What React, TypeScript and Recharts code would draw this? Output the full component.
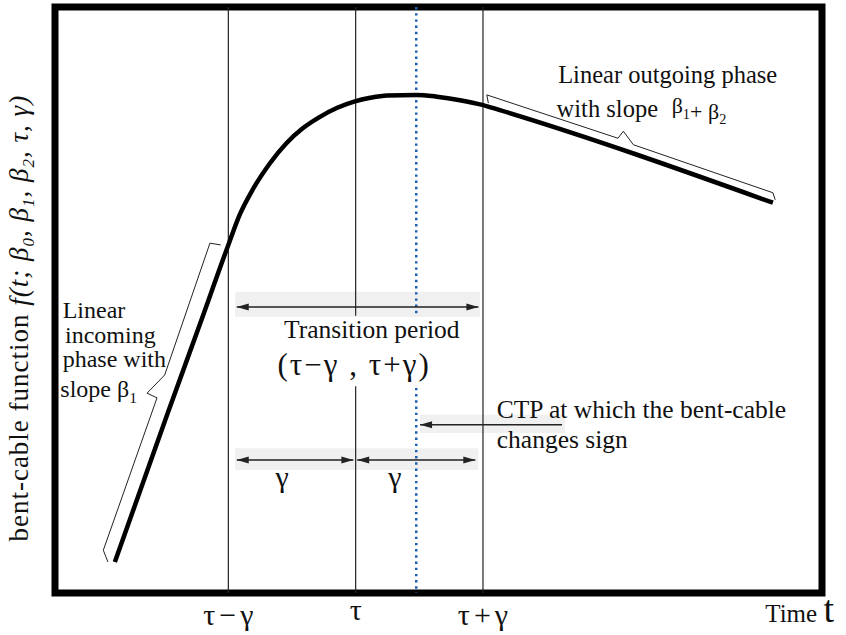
import React from 'react';
import {
  ComposedChart,
  Line,
  XAxis,
  YAxis,
  ReferenceArea,
  ReferenceLine,
  ReferenceDot,
} from 'recharts';

const SERIF = '"Liberation Serif", "Times New Roman", Times, serif';
const INK = '#111111';

// bent-cable parameters (x axis is time, 0..10)
const TAU = 3.92;
const GAMMA = 1.66;
const CTP = 4.71;

// the bent cable
const curveT = [0.78, 1.47, 1.89, 2.26, 2.41, 2.58, 2.8, 3.02, 3.23, 3.46, 3.68, 3.91, 4.11, 4.33, 4.71, 4.98, 5.28, 5.57, 5.8, 9.36];
const curveF = [0.53, 3.07, 4.59, 5.94, 6.46, 6.89, 7.33, 7.68, 7.93, 8.13, 8.28, 8.39, 8.45, 8.49, 8.5, 8.47, 8.41, 8.33, 8.24, 6.66];

// braces along the incoming and outgoing linear phases
const inBraceT = [2.16, 2.02, 1.43, 1.2, 1.33, 0.63, 0.69];
const inBraceF = [5.94, 5.97, 3.72, 3.41, 3.33, 0.73, 0.53];
const outBraceT = [5.65, 5.63, 7.34, 7.41, 7.54, 9.36, 9.39];
const outBraceF = [8.36, 8.5, 7.76, 7.88, 7.65, 6.83, 6.71];

const tickValues = [TAU - GAMMA, TAU, TAU + GAMMA];
const tickLabels = ['τ−γ', 'τ', 'τ+γ'];

// double-headed spans: transition period, then the two gammas
const spans = [
  { from: 2.37, to: 5.52, at: 4.88 },
  { from: 2.37, to: 3.89, at: 2.27 },
  { from: 3.94, to: 5.48, at: 2.27 },
];
const ctpArrow = { from: 4.76, to: 6.61, at: 2.87 };

// light grey strips behind the arrows
const strips = [
  { x1: 2.35, x2: 5.54, y1: 4.71, y2: 5.14 },
  { x1: 2.35, x2: 5.52, y1: 2.1, y2: 2.47 },
  { x1: 4.76, x2: 6.65, y1: 2.73, y2: 3.04 },
];

const rows = (ts: number[], fs: number[]) => ts.map((t, i) => ({ t, f: fs[i] }));

function ArrowShape(props: any) {
  const { x1, y1, x2, y2, both } = props;
  const dir = x2 > x1 ? 1 : -1;
  const head = (tx: number, ty: number, d: number) => (
    <polygon
      points={`${tx},${ty} ${tx + d * 12},${ty - 3.5} ${tx + d * 12},${ty + 3.5}`}
      fill="#222"
    />
  );
  return (
    <g>
      <line x1={x1} y1={y1} x2={x2} y2={y2} stroke="#222" strokeWidth={1.6} />
      {head(x1, y1, dir)}
      {both && head(x2, y2, -dir)}
    </g>
  );
}

function TimeTick(props: any) {
  const { x, y, payload } = props;
  let idx = tickValues.findIndex((v) => Math.abs(v - payload.value) < 1e-6);
  if (idx < 0) idx = props.index ?? 0;
  const dy = idx === 1 ? 27 : 32;
  return (
    <text
      x={x + 2}
      y={y + dy}
      textAnchor="middle"
      fontFamily={SERIF}
      fontSize={30}
      letterSpacing={4}
      fill={INK}
    >
      {tickLabels[idx]}
    </text>
  );
}

// text placed at a data point through a zero-size ReferenceDot
const note = (
  key: string,
  t: number,
  f: number,
  draw: (x: number, y: number) => React.ReactElement,
) => (
  <ReferenceDot
    key={key}
    x={t}
    y={f}
    r={0}
    fill="none"
    stroke="none"
    ifOverflow="visible"
    label={(p: any) => {
      const vb = p.viewBox ?? p;
      return draw(vb.x, vb.y);
    }}
  />
);

const txt = (
  x: number,
  y: number,
  size: number,
  children: React.ReactNode,
  anchor: 'start' | 'middle' = 'start',
  spacing = 0,
) => (
  <text
    x={x}
    y={y}
    fontFamily={SERIF}
    fontSize={size}
    textAnchor={anchor}
    letterSpacing={spacing}
    fill={INK}
  >
    {children}
  </text>
);

const sub = (s: string, size: number) => [
  <tspan key="s" dy={size * 0.25} fontSize={size * 0.65}>
    {s}
  </tspan>,
  <tspan key="r" dy={-size * 0.25} />,
];

export default function App() {
  return (
    <div style={{ position: 'absolute', left: 0, top: 0, background: '#fff' }}>
      <ComposedChart
        width={846}
        height={635}
        margin={{ top: 7, right: 24, bottom: 12, left: 55 }}
      >
        <XAxis
          dataKey="t"
          type="number"
          domain={[0, 10]}
          allowDataOverflow
          ticks={tickValues}
          interval={0}
          height={30}
          tickSize={0}
          tickMargin={0}
          axisLine={false}
          tickLine={false}
          tick={<TimeTick />}
        />
        <YAxis type="number" domain={[0, 10]} allowDataOverflow hide width={0} />

        {strips.map((s, i) => (
          <ReferenceArea
            key={`strip${i}`}
            x1={s.x1}
            x2={s.x2}
            y1={s.y1}
            y2={s.y2}
            fill="#f0f0f0"
            fillOpacity={1}
            stroke="none"
          />
        ))}

        <ReferenceLine x={TAU - GAMMA} stroke="#222" strokeWidth={1.2} />
        <ReferenceLine x={TAU + GAMMA} stroke="#222" strokeWidth={1.2} />
        <ReferenceLine segment={[{ x: TAU, y: 10 }, { x: TAU, y: 4.73 }]} stroke="#222" strokeWidth={1.2} />
        <ReferenceLine segment={[{ x: TAU, y: 3.53 }, { x: TAU, y: 0 }]} stroke="#222" strokeWidth={1.2} />
        <ReferenceLine
          segment={[{ x: CTP, y: 10 }, { x: CTP, y: 4.71 }]}
          stroke="#1d5fb0"
          strokeWidth={2.5}
          strokeDasharray="2.4 3.8"
        />
        <ReferenceLine
          segment={[{ x: CTP, y: 3.5 }, { x: CTP, y: 0 }]}
          stroke="#1d5fb0"
          strokeWidth={2.5}
          strokeDasharray="2.4 3.8"
        />

        {spans.map((s, i) => (
          <ReferenceLine
            key={`span${i}`}
            segment={[{ x: s.from, y: s.at }, { x: s.to, y: s.at }]}
            shape={(p: any) => <ArrowShape {...p} both />}
          />
        ))}
        <ReferenceLine
          segment={[{ x: ctpArrow.from, y: ctpArrow.at }, { x: ctpArrow.to, y: ctpArrow.at }]}
          shape={(p: any) => <ArrowShape {...p} />}
        />

        <Line
          data={rows(inBraceT, inBraceF)}
          dataKey="f"
          type="linear"
          stroke="#222"
          strokeWidth={1}
          dot={false}
          isAnimationActive={false}
        />
        <Line
          data={rows(outBraceT, outBraceF)}
          dataKey="f"
          type="linear"
          stroke="#222"
          strokeWidth={1}
          dot={false}
          isAnimationActive={false}
        />
        <Line
          data={rows(curveT, curveF)}
          dataKey="f"
          type="monotone"
          stroke="#000"
          strokeWidth={4.5}
          dot={false}
          isAnimationActive={false}
        />

        {note('ylab', -0.35, 4.69, (x, y) => (
          <text
            x={x}
            y={y}
            transform={`rotate(-90 ${x} ${y})`}
            textAnchor="middle"
            fontFamily={SERIF}
            fontSize={27}
            letterSpacing={1}
            fill={INK}
          >
            bent-cable function{' '}
            <tspan fontStyle="italic">f(t; β</tspan>
            <tspan fontStyle="italic" dy={6} fontSize={17}>0</tspan>
            <tspan fontStyle="italic" dy={-6}>, β</tspan>
            <tspan fontStyle="italic" dy={6} fontSize={17}>1</tspan>
            <tspan fontStyle="italic" dy={-6}>, β</tspan>
            <tspan fontStyle="italic" dy={6} fontSize={17}>2</tspan>
            <tspan fontStyle="italic" dy={-6}>, τ, γ)</tspan>
          </text>
        ))}

        {note('in1', 0.1, 4.69, (x, y) => txt(x, y, 24, 'Linear'))}
        {note('in2', 0.13, 4.27, (x, y) => txt(x, y, 24, 'incoming'))}
        {note('in3', 0.1, 3.86, (x, y) => txt(x, y, 24, 'phase with'))}
        {note('in4', 0.07, 3.34, (x, y) => txt(x, y, 24, ['slope β', ...sub('1', 24)]))}

        {note('trans', 4.13, 4.35, (x, y) => txt(x, y, 25.5, 'Transition period', 'middle'))}
        {note('range', 3.9, 3.72, (x, y) => txt(x, y, 31, '(τ−γ , τ+γ)', 'middle', 2))}
        {note('g1', 2.96, 1.81, (x, y) => txt(x, y, 30, 'γ', 'middle'))}
        {note('g2', 4.43, 1.81, (x, y) => txt(x, y, 30, 'γ', 'middle'))}

        {note('ctp1', 5.76, 2.99, (x, y) => txt(x, y, 25.5, 'CTP at which the bent-cable'))}
        {note('ctp2', 5.76, 2.48, (x, y) => txt(x, y, 25.5, 'changes sign'))}

        {note('out1', 6.56, 8.7, (x, y) => txt(x, y, 24.5, 'Linear outgoing phase'))}
        {note('out2', 6.54, 8.12, (x, y) => txt(x, y, 24.5, 'with slope'))}
        {note('out3', 8.04, 8.19, (x, y) =>
          txt(x, y, 22, ['β', ...sub('1', 22), '+ β', ...sub('2', 22)]),
        )}

        {note('time', 9.26, -0.49, (x, y) => (
          <text x={x} y={y} fontFamily={SERIF} fontSize={25} fill={INK}>
            Time <tspan fontSize={38}>t</tspan>
          </text>
        ))}

        <ReferenceArea
          x1={0}
          x2={10}
          y1={0}
          y2={10}
          fill="none"
          stroke="#000"
          strokeWidth={7}
        />
      </ComposedChart>
    </div>
  );
}
